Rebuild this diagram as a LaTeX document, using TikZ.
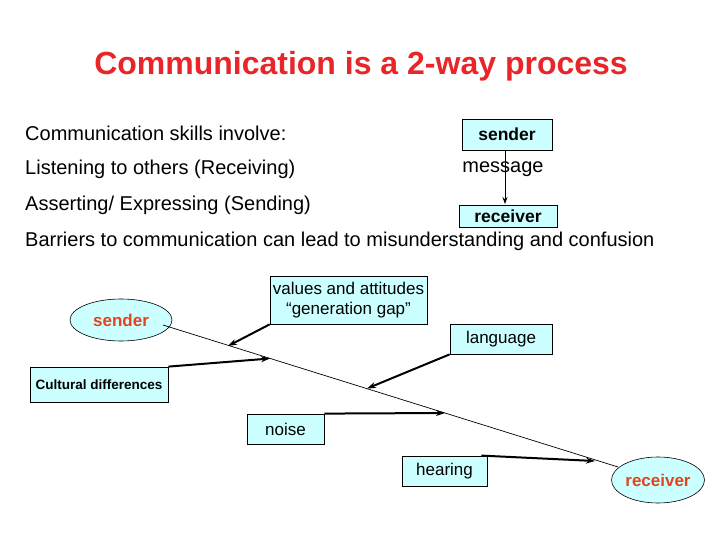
\documentclass[tikz,border=0pt]{standalone}
\usepackage{fontspec}
\setmainfont{Liberation Sans}
\usetikzlibrary{arrows.meta,shapes.geometric,calc}
\definecolor{boxfill}{HTML}{CCFFFF}
\definecolor{titlered}{HTML}{E8262A}
\definecolor{elltext}{HTML}{E0461E}
\tikzset{
  box/.style={draw=black,line width=0.8pt,fill=boxfill,inner sep=0pt,align=center,font=\fontsize{17}{20}\selectfont},
  ell/.style={draw=black,line width=0.6pt,fill=boxfill,ellipse,inner sep=0pt,font=\fontsize{17}{20}\selectfont\bfseries,text=elltext},
  body/.style={anchor=west,inner sep=0pt,font=\fontsize{20}{24}\selectfont},
  barrier/.style={line width=2pt,-{Stealth[length=9pt,width=6pt]}},
  mainline/.style={line width=0.7pt}
}
\begin{document}
\begin{tikzpicture}[x=1pt,y=-1pt]
\useasboundingbox (0,0) rectangle (720,540);
\node[inner sep=0pt,text=titlered,font=\fontsize{32}{38}\selectfont\bfseries] (title) at (361,66) {Communication is a 2-way process};
\node[body] (t1) at (25,133) {Communication skills involve:};
\node[body] (t2) at (25,169) {Listening to others (Receiving)};
\node[body] (t3) at (25,205) {Asserting/ Expressing (Sending)};
\node[body] (t4) at (25,241) {Barriers to communication can lead to misunderstanding and confusion};
\node[box,minimum width=90pt,minimum height=31pt,font=\fontsize{17.5}{20}\selectfont\bfseries] (ts) at (507,134.5) {sender};
\node[box,minimum width=98pt,minimum height=22pt,font=\fontsize{17.5}{20}\selectfont\bfseries] (tr) at (508,216) {receiver};
\node[inner sep=0pt,font=\fontsize{20}{24}\selectfont] (msg) at (503,169) {message};
\draw[line width=0.8pt,-{Stealth[length=7pt,width=5pt]}] (ts.south -| 505,0) -- (505,204);
\node[ell,minimum width=102pt,minimum height=42pt] (s) at (121,320) {sender};
\node[ell,minimum width=93pt,minimum height=46pt] (r) at (658,480) {receiver};
\coordinate (ms) at (163,325);
\coordinate (me) at (618,467);
\draw[mainline] (ms) -- (me);
\node[box,minimum width=157pt,minimum height=48pt,font=\fontsize{17}{20}\selectfont] (val) at (348.5,300) {values and attitudes\\“generation gap”};
\node[box,minimum width=138pt,minimum height=35pt,font=\fontsize{13.5}{16}\selectfont\bfseries] (cul) at (99,384.5) {Cultural differences};
\node[box,minimum width=102pt,minimum height=30pt] (lang) at (501,339) {language};
\node[box,minimum width=77pt,minimum height=30pt] (noise) at (285.5,429) {noise};
\node[box,minimum width=85pt,minimum height=30pt] (hear) at (444.5,471) {hearing};
\draw[barrier] (val.south west) -- (228,346);
\draw[barrier] (cul.north east) -- (270,358.5);
\draw[barrier] (lang.south west) -- (367,388.5);
\draw[barrier] (noise.north east) -- (445,413);
\draw[barrier] ([xshift=-6pt]hear.north east) -- (595,461);
\end{tikzpicture}
\end{document}
